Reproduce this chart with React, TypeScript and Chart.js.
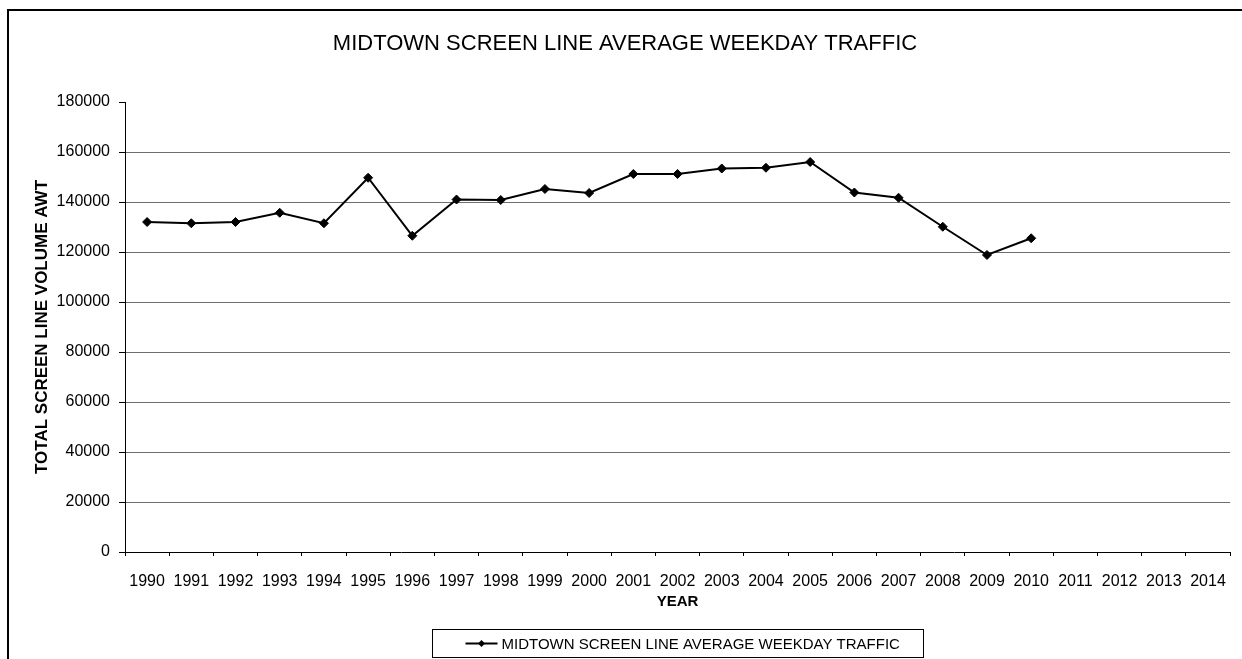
import React, { useEffect, useRef } from "react";
import { Chart, registerables } from "chart.js";

Chart.register(...registerables);

const years = [
  "1990", "1991", "1992", "1993", "1994", "1995", "1996", "1997", "1998", "1999",
  "2000", "2001", "2002", "2003", "2004", "2005", "2006", "2007", "2008", "2009",
  "2010", "2011", "2012", "2013", "2014",
];

const traffic: (number | null)[] = [
  132000, 131500, 132000, 135700, 131500, 149700, 126500, 141000, 140800, 145200,
  143600, 151200, 151200, 153400, 153700, 156000, 143800, 141700, 130100, 118800,
  125500, null, null, null, null,
];

const yMin = 0;
const yMax = 180000;
const yStep = 20000;

const chartTitle = "MIDTOWN SCREEN LINE AVERAGE WEEKDAY TRAFFIC";
const seriesLabel = "MIDTOWN SCREEN LINE AVERAGE WEEKDAY TRAFFIC";
const xTitle = "YEAR";
const yTitle = "TOTAL SCREEN LINE VOLUME AWT";

const FONT = "'Liberation Sans', Arial, Helvetica, sans-serif";
const W = 1242;
const H = 659;

const framePlugin = {
  id: "frameAndLegend",
  afterDraw(chart: any) {
    const ctx = chart.ctx as CanvasRenderingContext2D;
    const area = chart.chartArea;
    ctx.save();
    // outer frame (top + left edges visible)
    ctx.fillStyle = "#000";
    ctx.fillRect(7, 9, chart.width - 7, 2);
    ctx.fillRect(7, 9, 2, chart.height - 9);

    // legend box
    const ds = chart.data.datasets[0];
    ctx.font = `15px ${FONT}`;
    const textW = ctx.measureText(ds.label).width;
    const padL = 33;
    const symW = 32;
    const gap = 4;
    const padR = 24;
    const boxW = padL + symW + gap + textW + padR;
    const boxH = 28;
    const cx = (area.left + area.right) / 2;
    const bx = Math.round(cx - boxW / 2) + 0.5;
    const by = chart.height - 30 + 0.5;
    ctx.strokeStyle = "#000";
    ctx.lineWidth = 1;
    ctx.strokeRect(bx, by, Math.round(boxW), boxH);

    const ly = by + boxH / 2;
    const sx = bx + padL;
    ctx.lineWidth = 2;
    ctx.beginPath();
    ctx.moveTo(sx, ly);
    ctx.lineTo(sx + symW, ly);
    ctx.stroke();
    const mx = sx + symW / 2;
    const r = 3.5;
    ctx.beginPath();
    ctx.moveTo(mx - r, ly);
    ctx.lineTo(mx, ly - r);
    ctx.lineTo(mx + r, ly);
    ctx.lineTo(mx, ly + r);
    ctx.closePath();
    ctx.fill();

    ctx.fillStyle = "#000";
    ctx.textBaseline = "middle";
    ctx.textAlign = "left";
    ctx.fillText(ds.label, sx + symW + gap, ly + 1);
    ctx.restore();
  },
};

export default function App() {
  const canvasRef = useRef<HTMLCanvasElement | null>(null);

  useEffect(() => {
    if (!canvasRef.current) return;
    Chart.defaults.font.family = FONT;
    Chart.defaults.color = "#000";
    const chart = new Chart(canvasRef.current, {
      type: "line",
      data: {
        labels: years,
        datasets: [
          {
            label: seriesLabel,
            data: traffic,
            borderColor: "#000",
            backgroundColor: "#000",
            borderWidth: 2,
            tension: 0,
            pointStyle: "rectRot",
            pointRadius: 4.5,
            pointBorderWidth: 1,
            pointBackgroundColor: "#000",
            pointBorderColor: "#000",
            fill: false,
          },
        ],
      },
      options: {
        responsive: false,
        animation: false,
        devicePixelRatio: 1,
        layout: { padding: { left: 18, right: 10, top: 0, bottom: 0 } },
        plugins: {
          legend: { display: false },
          tooltip: { enabled: false },
          title: {
            display: true,
            text: chartTitle,
            color: "#000",
            font: { size: 22, weight: "normal", family: FONT },
            padding: { top: 30.8, bottom: 44.8 },
          },
        },
        scales: {
          x: {
            type: "category",
            offset: true,
            afterFit: (scale: any) => {
              scale.height = 107;
            },
            grid: {
              display: true,
              offset: true,
              drawOnChartArea: false,
              drawTicks: true,
              tickLength: 4,
              color: "#000",
              tickColor: "#000",
            },
            border: { display: true, color: "#000", width: 1 },
            ticks: {
              color: "#000",
              font: { size: 16, family: FONT },
              padding: 16,
              maxRotation: 0,
              autoSkip: false,
            },
            title: {
              display: true,
              text: xTitle,
              color: "#000",
              font: { size: 15, weight: "bold", family: FONT },
              padding: { top: 0, bottom: 48 },
            },
          },
          y: {
            min: yMin,
            max: yMax,
            afterFit: (scale: any) => {
              scale.width = 107;
            },
            grid: {
              display: true,
              drawTicks: true,
              tickLength: 6,
              color: (c: any) =>
                c.tick && (c.tick.value === yMax || c.tick.value === yMin)
                  ? "rgba(0,0,0,0)"
                  : "#6e6e6e",
              tickColor: "#000",
              lineWidth: 1,
            },
            border: { display: true, color: "#000", width: 1 },
            ticks: {
              stepSize: yStep,
              color: "#000",
              font: { size: 16, family: FONT },
              padding: 9,
              callback: (v: any) => String(v),
            },
            title: {
              display: true,
              text: yTitle,
              color: "#000",
              font: { size: 17, weight: "bold", family: FONT },
              padding: { top: 13.8, bottom: 0 },
            },
          },
        },
      },
      plugins: [framePlugin],
    });
    return () => chart.destroy();
  }, []);

  return (
    <div style={{ position: "absolute", left: 0, top: 0, width: W, height: H, background: "#fff" }}>
      <canvas ref={canvasRef} width={W} height={H} style={{ display: "block" }} />
    </div>
  );
}
